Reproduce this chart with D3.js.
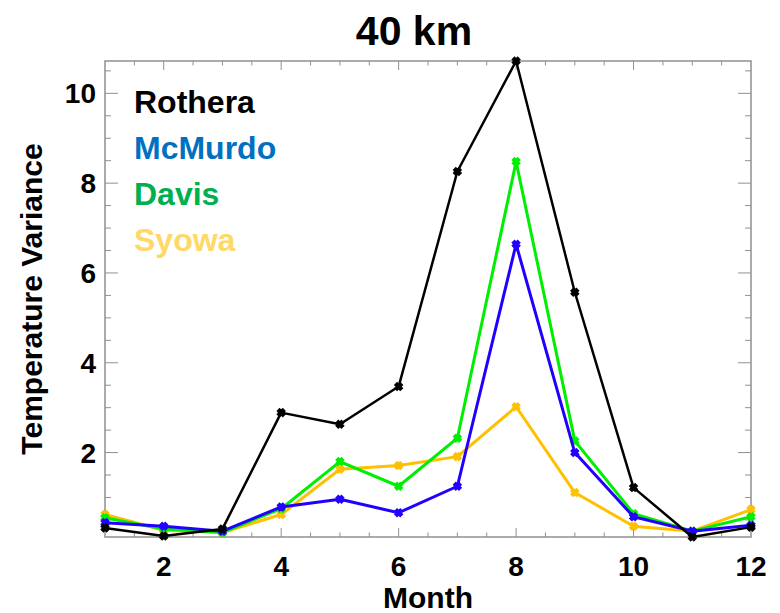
<!DOCTYPE html>
<html>
<head>
<meta charset="utf-8">
<script src="https://cdn.jsdelivr.net/npm/d3@7"></script>
<style>
  body { margin: 0; background: #fff; }
  text { font-family: "Liberation Sans", Arial, sans-serif; font-weight: bold; }
</style>
</head>
<body>
<script>
// data
let months = [1, 2, 3, 4, 5, 6, 7, 8, 9, 10, 11, 12];
let rothera = [0.32, 0.14, 0.30, 2.89, 2.63, 3.47, 8.26, 10.72, 5.57, 1.22, 0.12, 0.34];
let mcmurdo = [0.44, 0.36, 0.25, 0.79, 0.96, 0.66, 1.25, 6.64, 2.00, 0.57, 0.25, 0.38];
let davis   = [0.55, 0.30, 0.22, 0.75, 1.80, 1.25, 2.32, 8.48, 2.26, 0.64, 0.25, 0.57];
let syowa   = [0.62, 0.27, 0.22, 0.62, 1.63, 1.71, 1.91, 3.02, 1.11, 0.36, 0.25, 0.73];
let xTicks = [2, 4, 6, 8, 10, 12];
let yTicks = [2, 4, 6, 8, 10];
let stations = ["Rothera", "McMurdo", "Davis", "Syowa"];

let series = [
    { name: stations[0], values: rothera, line: "#000000", label: "#000000", width: 2.5 },
    { name: stations[1], values: mcmurdo, line: "#2200ff", label: "#0070c0", width: 3 },
    { name: stations[2], values: davis,   line: "#00ee00", label: "#00b050", width: 3 },
    { name: stations[3], values: syowa,   line: "#ffc000", label: "#ffd966", width: 3 }
];

let W = 780, H = 613;
let plotLeft = 105, plotRight = 751, plotTop = 61, plotBottom = 537;

let svg = d3.select("body").append("svg").attr("width", W).attr("height", H);

let x = d3.scaleLinear().domain([1, 12]).range([plotLeft, plotRight]);
let y = d3.scaleLinear()
    .domain(d3.extent(rothera.concat(mcmurdo, davis, syowa)))
    .range([plotBottom, plotTop]);

// ticks (IDL style: on all four sides, gray)
let axisColor = "#909090";
let xMinor = d3.range(1, 12.01, 0.5);
let yMinor = d3.range(0.5, 10.75, 0.5);

let ax = svg.append("g");
function tickLinesX(yPos, dir) {
    ax.append("g").selectAll("line").data(xMinor.filter(d => d > 1 && d < 12)).enter().append("line")
        .attr("x1", d => x(d)).attr("x2", d => x(d))
        .attr("y1", yPos)
        .attr("y2", d => yPos + dir * (d % 2 === 0 ? 9 : 4.5))
        .attr("stroke", axisColor).attr("stroke-width", 1);
}
function tickLinesY(xPos, dir) {
    ax.append("g").selectAll("line").data(yMinor.filter(d => y(d) < plotBottom && y(d) > plotTop)).enter().append("line")
        .attr("y1", d => y(d)).attr("y2", d => y(d))
        .attr("x1", xPos)
        .attr("x2", d => xPos + dir * (d % 2 === 0 ? 13 : 6))
        .attr("stroke", axisColor).attr("stroke-width", 1);
}
tickLinesX(plotBottom, -1);
tickLinesX(plotTop, 1);
tickLinesY(plotLeft, 1);
tickLinesY(plotRight, -1);

ax.append("rect")
    .attr("x", plotLeft).attr("y", plotTop)
    .attr("width", plotRight - plotLeft).attr("height", plotBottom - plotTop)
    .attr("fill", "none").attr("stroke", axisColor).attr("stroke-width", 1.5);

// tick labels
svg.append("g").selectAll("text").data(xTicks).enter().append("text")
    .attr("x", d => x(d)).attr("y", 576)
    .attr("text-anchor", "middle")
    .attr("font-size", "28px")
    .text(d => d);

svg.append("g").selectAll("text").data(yTicks).enter().append("text")
    .attr("x", 96).attr("y", d => y(d) + 10)
    .attr("text-anchor", "end")
    .attr("font-size", "28px")
    .text(d => d);

// lines and markers
let lineFn = d3.line()
    .x((d, i) => x(months[i]))
    .y(d => y(d));

let symbol = d3.symbol().type(d3.symbolTimes).size(28);

series.slice().reverse().forEach(s => {
    svg.append("path")
        .attr("d", lineFn(s.values))
        .attr("fill", "none")
        .attr("stroke", s.line)
        .attr("stroke-width", s.width)
        .attr("stroke-linejoin", "round");
    svg.append("g").selectAll("path").data(s.values).enter().append("path")
        .attr("d", symbol)
        .attr("transform", (d, i) => "translate(" + x(months[i]) + "," + y(d) + ")")
        .attr("fill", "none")
        .attr("stroke", s.line)
        .attr("stroke-width", 4.5);
});

// legend
svg.append("g").selectAll("text").data(series).enter().append("text")
    .attr("x", 134).attr("y", (d, i) => 113 + i * 46)
    .attr("font-family", "Lato, 'Open Sans', sans-serif")
    .attr("font-size", "32px")
    .attr("fill", d => d.label)
    .text(d => d.name);

// titles
svg.append("text")
    .attr("x", 414).attr("y", 45)
    .attr("text-anchor", "middle")
    .attr("font-family", "Lato, 'Open Sans', sans-serif")
    .attr("font-size", "41px")
    .text("40 km");

svg.append("text")
    .attr("x", 428).attr("y", 608)
    .attr("text-anchor", "middle")
    .attr("font-size", "30px")
    .text("Month");

svg.append("text")
    .attr("transform", "translate(42," + ((plotTop + plotBottom) / 2) + ") rotate(-90)")
    .attr("text-anchor", "middle")
    .attr("font-size", "30px")
    .text("Temperature Variance");
</script>
</body>
</html>
